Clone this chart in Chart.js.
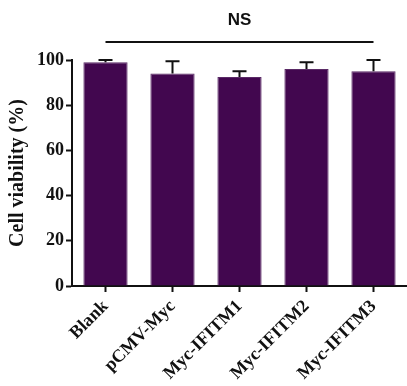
<!DOCTYPE html>
<html>
<head>
<meta charset="utf-8">
<script src="https://cdn.jsdelivr.net/npm/chart.js@4.4.1/dist/chart.umd.min.js"></script>
<style>
  html, body { margin: 0; padding: 0; background: #fff; }
  #wrap { width: 407px; height: 386px; }
</style>
</head>
<body>
<div id="wrap"><canvas id="barchart" width="407" height="386"></canvas></div>
<script>
const groups = ["Blank", "pCMV-Myc", "Myc-IFITM1", "Myc-IFITM2", "Myc-IFITM3"];
const viability = [99, 94, 92.5, 96, 95];
const viabilitySd = [1, 5.5, 2.5, 3, 5];
const yTicks = [0, 20, 40, 60, 80, 100];
const sigLabel = "NS";

// upper whiskers only, like the original graph
const errorBars = {
    id: 'errorBars',
    afterDatasetsDraw(chart) {
        const ctx = chart.ctx;
        const meta = chart.getDatasetMeta(0);
        const y = chart.scales.y;
        ctx.save();
        ctx.strokeStyle = '#111';
        ctx.lineWidth = 2;
        meta.data.forEach(function (bar, i) {
            const top = y.getPixelForValue(viability[i] + viabilitySd[i]);
            const base = y.getPixelForValue(viability[i]);
            ctx.beginPath();
            ctx.moveTo(bar.x, base);
            ctx.lineTo(bar.x, top);
            ctx.moveTo(bar.x - 7, top);
            ctx.lineTo(bar.x + 7, top);
            ctx.stroke();
        });
        ctx.restore();
    }
};

// significance bracket above all groups
const sigLine = {
    id: 'sigLine',
    afterDraw(chart) {
        const ctx = chart.ctx;
        const x = chart.scales.x;
        const x0 = x.getPixelForValue(0);
        const x1 = x.getPixelForValue(groups.length - 1);
        ctx.save();
        ctx.strokeStyle = '#111';
        ctx.lineWidth = 2;
        ctx.beginPath();
        ctx.moveTo(x0, 42);
        ctx.lineTo(x1, 42);
        ctx.stroke();
        ctx.fillStyle = '#111';
        ctx.font = 'bold 17px "Liberation Sans", Arial, sans-serif';
        ctx.textAlign = 'center';
        ctx.textBaseline = 'middle';
        ctx.fillText(sigLabel, (x0 + x1) / 2, 20);
        ctx.restore();
    }
};

const ctx = document.getElementById("barchart");
const myChart = new Chart(ctx, {
    type: 'bar',
    data: {
        labels: groups,
        datasets: [{
            label: 'Cell viability',
            data: viability,
            backgroundColor: '#42074f',
            borderColor: '#5a2a66',
            borderWidth: 1,
            categoryPercentage: 1,
            barPercentage: 0.66
        }]
    },
    options: {
        responsive: false,
        animation: false,
        layout: { padding: { top: 60, right: 0, left: 0, bottom: 0 } },
        plugins: {
            legend: { display: false },
            tooltip: { enabled: false }
        },
        scales: {
            x: {
                afterFit: function (scale) { scale.height = 100; },
                grid: {
                    offset: false,
                    drawOnChartArea: false,
                    drawTicks: true,
                    tickLength: 6,
                    tickWidth: 2,
                    tickColor: '#111'
                },
                border: { color: '#111', width: 2 },
                ticks: {
                    color: '#111',
                    minRotation: 45,
                    maxRotation: 45,
                    padding: 4,
                    font: { family: '"Liberation Serif", "Times New Roman", serif', size: 18, weight: 'bold' }
                }
            },
            y: {
                min: 0,
                max: 100,
                afterFit: function (scale) { scale.width = 72; },
                afterBuildTicks: function (scale) {
                    scale.ticks = yTicks.map(function (v) { return { value: v }; });
                },
                grid: {
                    drawOnChartArea: false,
                    drawTicks: true,
                    tickLength: 6,
                    tickWidth: 2,
                    tickColor: '#111'
                },
                border: { color: '#111', width: 2 },
                ticks: {
                    color: '#111',
                    padding: 2,
                    font: { family: '"Liberation Serif", "Times New Roman", serif', size: 18, weight: 'bold' }
                },
                title: {
                    display: true,
                    text: 'Cell viability (%)',
                    color: '#111',
                    padding: { top: 6, bottom: 4 },
                    font: { family: '"Liberation Serif", "Times New Roman", serif', size: 20, weight: 'bold' }
                }
            }
        }
    },
    plugins: [errorBars, sigLine]
});
</script>
</body>
</html>
